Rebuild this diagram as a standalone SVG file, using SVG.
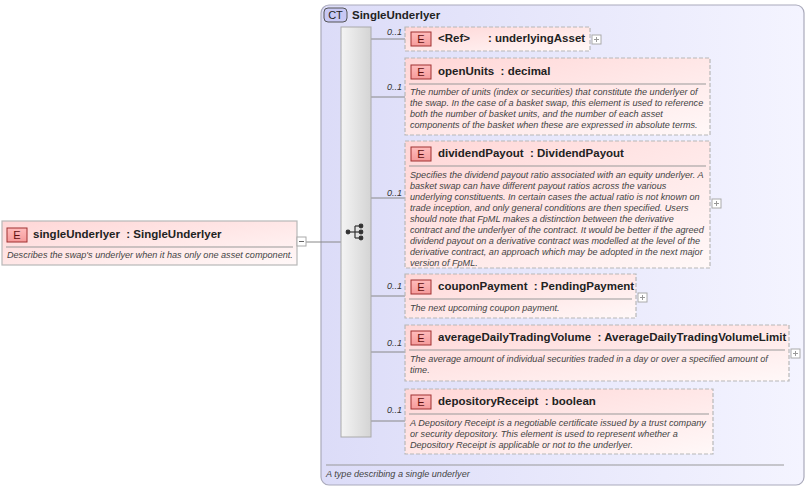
<svg xmlns="http://www.w3.org/2000/svg" width="808" height="489" viewBox="0 0 808 489">
<defs>
<linearGradient id="eg" x1="0" y1="0" x2="1" y2="1"><stop offset="0" stop-color="#ffd6d6"/><stop offset="1" stop-color="#fff8f8"/></linearGradient>
<linearGradient id="ct" x1="0" y1="0" x2="1" y2="0"><stop offset="0" stop-color="#dcdcf8"/><stop offset="1" stop-color="#f4f4ff"/></linearGradient>
<linearGradient id="bar" x1="0" y1="0" x2="1" y2="0"><stop offset="0" stop-color="#f4f4f4"/><stop offset="1" stop-color="#d4d4d4"/></linearGradient>
<linearGradient id="badge" x1="0" y1="0" x2="0" y2="1"><stop offset="0" stop-color="#ffbcbc"/><stop offset="1" stop-color="#f59a9a"/></linearGradient>
</defs>
<style>
.node{fill:url(#eg);stroke:#b8b8b8;stroke-width:1.2;stroke-dasharray:4,2}
.solid{stroke-dasharray:none}
.badge{fill:url(#badge);stroke:#a03030;stroke-width:1}
.bt{font-family:"Liberation Sans",Arial,sans-serif;font-size:11px;fill:#601010;text-anchor:middle}
.t{font-family:"Liberation Sans",Arial,sans-serif;font-size:11.5px;font-weight:bold;fill:#222;white-space:pre}
.d{font-family:"Liberation Sans",Arial,sans-serif;font-size:9.1px;font-style:italic;fill:#444}
.m{font-family:"Liberation Sans",Arial,sans-serif;font-size:9px;font-style:italic;fill:#333}
.sep{stroke:#999;stroke-width:1}
.ln{stroke:#888;stroke-width:1;fill:none}
.pm{fill:#fff;stroke:#aaa;stroke-width:1}
</style>
<g id="ct-SingleUnderlyer">
<rect x="321" y="5" width="483" height="480" rx="8" fill="url(#ct)" stroke="#aab" stroke-width="1.2"/>
<rect x="324" y="8" width="23" height="14" rx="4" fill="#c8c8f4" stroke="#555" stroke-width="1"/>
<text x="335.5" y="19" class="bt" style="fill:#222">CT</text>
<text x="352" y="19" class="t">SingleUnderlyer</text>
<line x1="326" y1="465" x2="784" y2="465" class="sep"/>
<text x="326" y="477" class="d">A type describing a single underlyer</text>
</g>
<g id="connectors">
<line x1="306" y1="242" x2="341" y2="242" class="ln"/>
<line x1="371" y1="39" x2="405" y2="39" class="ln"/>
<line x1="371" y1="97" x2="405" y2="97" class="ln"/>
<line x1="371" y1="198" x2="405" y2="198" class="ln"/>
<line x1="371" y1="296" x2="405" y2="296" class="ln"/>
<line x1="371" y1="352" x2="405" y2="352" class="ln"/>
<line x1="371" y1="421" x2="405" y2="421" class="ln"/>
<text x="387" y="35" class="m">0..1</text>
<text x="387" y="90" class="m">0..1</text>
<text x="387" y="196" class="m">0..1</text>
<text x="387" y="289" class="m">0..1</text>
<text x="387" y="346" class="m">0..1</text>
<text x="387" y="413" class="m">0..1</text>
</g>
<g id="sequence">
<rect x="341" y="27" width="30" height="410" fill="url(#bar)" stroke="#aaa" stroke-width="1"/>
<g stroke="#333" stroke-width="1.2" fill="#333">
<line x1="348" y1="232" x2="355" y2="232"/><line x1="355" y1="226" x2="355" y2="238"/>
<line x1="355" y1="226" x2="361" y2="226"/><line x1="355" y1="232" x2="361" y2="232"/><line x1="355" y1="238" x2="361" y2="238"/>
<circle cx="348" cy="232" r="1.8"/><circle cx="361" cy="226" r="1.8"/><circle cx="361" cy="232" r="1.8"/><circle cx="361" cy="238" r="1.8"/>
</g>
</g>
<g id="singleUnderlyer">
<rect x="2" y="221" width="295" height="44" class="node solid"/>
<rect x="7" y="228" width="20" height="14" class="badge"/><text x="17" y="239" class="bt">E</text>
<text x="33" y="238" class="t">singleUnderlyer  : SingleUnderlyer</text>
<line x1="6" y1="247" x2="293" y2="247" class="sep"/>
<text x="7" y="258" class="d">Describes the swap's underlyer when it has only one asset component.</text>
<rect x="297" y="237" width="9" height="9" class="pm"/><line x1="299" y1="241.5" x2="304" y2="241.5" stroke="#666"/>
</g>
<g id="underlyingAsset">
<rect x="405" y="27" width="185" height="24" class="node"/>
<rect x="411" y="32" width="20" height="14" class="badge"/><text x="421" y="43" class="bt">E</text>
<text x="438" y="42" class="t">&lt;Ref&gt;</text><text x="488" y="42" class="t">: underlyingAsset</text>
<rect x="592" y="35" width="9" height="9" class="pm"/><path d="M594 39.5h5M596.5 37v5" stroke="#999"/>
</g>
<g id="openUnits">
<rect x="405" y="58" width="305" height="77" class="node"/>
<rect x="411" y="65" width="20" height="14" class="badge"/><text x="421" y="76" class="bt">E</text>
<text x="438" y="75" class="t">openUnits  : decimal</text>
<line x1="409" y1="84" x2="706" y2="84" class="sep"/>
<text class="d"><tspan x="410" y="95">The number of units (index or securities) that constitute the underlyer of</tspan><tspan x="410" y="106">the swap. In the case of a basket swap, this element is used to reference</tspan><tspan x="410" y="117">both the number of basket units, and the number of each asset</tspan><tspan x="410" y="128">components of the basket when these are expressed in absolute terms.</tspan></text>
</g>
<g id="dividendPayout">
<rect x="405" y="141" width="305" height="127" class="node"/>
<rect x="411" y="147" width="20" height="14" class="badge"/><text x="421" y="158" class="bt">E</text>
<text x="438" y="157" class="t">dividendPayout  : DividendPayout</text>
<line x1="409" y1="166" x2="706" y2="166" class="sep"/>
<text class="d"><tspan x="410" y="178">Specifies the dividend payout ratio associated with an equity underlyer. A</tspan><tspan x="410" y="189">basket swap can have different payout ratios across the various</tspan><tspan x="410" y="200">underlying constituents. In certain cases the actual ratio is not known on</tspan><tspan x="410" y="211">trade inception, and only general conditions are then specified. Users</tspan><tspan x="410" y="222">should note that FpML makes a distinction between the derivative</tspan><tspan x="410" y="233">contract and the underlyer of the contract. It would be better if the agreed</tspan><tspan x="410" y="244">dividend payout on a derivative contract was modelled at the level of the</tspan><tspan x="410" y="255">derivative contract, an approach which may be adopted in the next major</tspan><tspan x="410" y="266">version of FpML.</tspan></text>
<rect x="712" y="199" width="9" height="9" class="pm"/><path d="M714 203.5h5M716.5 201v5" stroke="#999"/>
</g>
<g id="couponPayment">
<rect x="405" y="274" width="231" height="44" class="node"/>
<rect x="411" y="280" width="20" height="14" class="badge"/><text x="421" y="291" class="bt">E</text>
<text x="438" y="290" class="t">couponPayment  : PendingPayment</text>
<line x1="409" y1="299" x2="632" y2="299" class="sep"/>
<text x="410" y="311" class="d">The next upcoming coupon payment.</text>
<rect x="638" y="293" width="9" height="9" class="pm"/><path d="M640 297.5h5M642.5 295v5" stroke="#999"/>
</g>
<g id="averageDailyTradingVolume">
<rect x="405" y="325" width="384" height="56" class="node"/>
<rect x="411" y="331" width="20" height="14" class="badge"/><text x="421" y="342" class="bt">E</text>
<text x="438" y="341" class="t">averageDailyTradingVolume  : AverageDailyTradingVolumeLimit</text>
<line x1="409" y1="350" x2="785" y2="350" class="sep"/>
<text class="d"><tspan x="410" y="362">The average amount of individual securities traded in a day or over a specified amount of</tspan><tspan x="410" y="373">time.</tspan></text>
<rect x="791" y="349" width="9" height="9" class="pm"/><path d="M793 353.5h5M795.5 351v5" stroke="#999"/>
</g>
<g id="depositoryReceipt">
<rect x="405" y="389" width="308" height="65" class="node"/>
<rect x="411" y="395" width="20" height="14" class="badge"/><text x="421" y="406" class="bt">E</text>
<text x="438" y="405" class="t">depositoryReceipt  : boolean</text>
<line x1="409" y1="414" x2="709" y2="414" class="sep"/>
<text class="d"><tspan x="410" y="426">A Depository Receipt is a negotiable certificate issued by a trust company</tspan><tspan x="410" y="437">or security depository. This element is used to represent whether a</tspan><tspan x="410" y="448">Depository Receipt is applicable or not to the underlyer.</tspan></text>
</g>
</svg>
